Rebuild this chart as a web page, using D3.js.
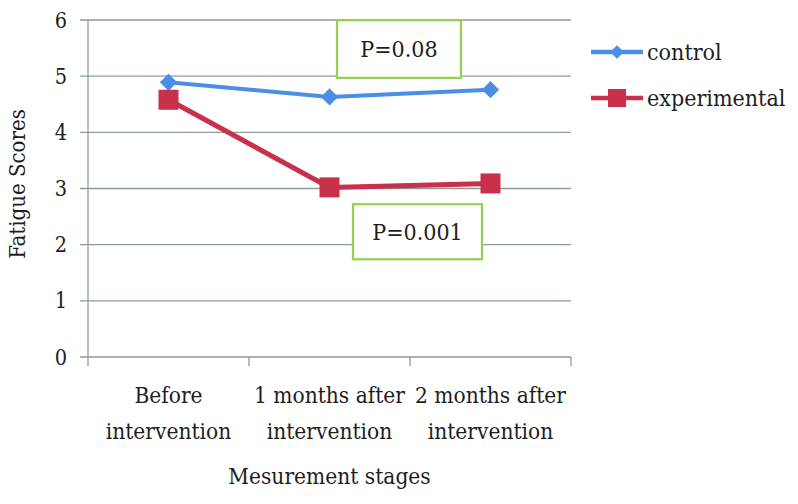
<!DOCTYPE html>
<html><head><meta charset="utf-8">
<script src="https://cdn.jsdelivr.net/npm/d3@7"></script>
<style>body{margin:0;background:#fff}svg{display:block}text{font-family:"DejaVu Serif Condensed","DejaVu Serif",serif;font-stretch:condensed;fill:#1e1e1e}</style>
</head><body><svg id="c" width="798" height="504"></svg>
<script>
const categories = [["Before","intervention"],["1 months after","intervention"],["2 months after","intervention"]];
const seriesNames = ["control","experimental"];
const controlValues = [4.89, 4.63, 4.76];
const experimentalValues = [4.58, 3.02, 3.09];
const yTicks = [0,1,2,3,4,5,6];
const pLabels = ["P=0.08","P=0.001"];

const svg = d3.select("#c");
const L=88, R=571, T=20, B=357;
const x = d3.scaleBand().domain(d3.range(categories.length)).range([L,R]);
const y = d3.scaleLinear().domain([0,6]).range([B,T]);
const grid="#8e9b9b";

svg.append("g").selectAll("line").data(yTicks).join("line")
 .attr("x1",L-8).attr("x2",R).attr("y1",d=>y(d)).attr("y2",d=>y(d))
 .attr("stroke",grid).attr("stroke-width",1.3);
svg.append("line").attr("x1",L).attr("x2",L).attr("y1",T).attr("y2",B+9).attr("stroke",grid).attr("stroke-width",1.3);
svg.append("g").selectAll("line").data(d3.range(1,categories.length+1)).join("line")
 .attr("x1",d=>L+d*x.bandwidth()).attr("x2",d=>L+d*x.bandwidth()).attr("y1",B).attr("y2",B+9)
 .attr("stroke",grid).attr("stroke-width",1.3);
svg.append("g").selectAll("text").data(yTicks).join("text")
 .attr("x",67).attr("y",d=>y(d)+7.5).attr("text-anchor","end").attr("font-size",21.5).text(d=>d);
const cx = i=>x(i)+x.bandwidth()/2;
categories.forEach((c,i)=>{
  c.forEach((line,j)=>{
    svg.append("text").attr("x",cx(i)).attr("y",403+j*36).attr("text-anchor","middle").attr("font-size",22.5).text(line);
  });
});
svg.append("text").attr("x",cx(1)).attr("y",484).attr("text-anchor","middle").attr("font-size",22.5).text("Mesurement stages");
svg.append("text").attr("transform","translate(25,184) rotate(-90)").attr("text-anchor","middle").attr("font-size",22).text("Fatigue Scores");

function box(x0, x1, v0, v1, t){
  svg.append("rect").attr("x",x0).attr("y",y(v0)).attr("width",x1-x0).attr("height",y(v1)-y(v0))
   .attr("fill","#fff").attr("stroke","#92d050").attr("stroke-width",2.2);
  svg.append("text").attr("x",(x0+x1)/2).attr("y",(y(v0)+y(v1))/2+8).attr("text-anchor","middle").attr("font-size",23).text(t);
}
box(337, 461, 5.995, 4.97, pLabels[0]);
box(353, 482, 2.72, 1.74, pLabels[1]);

const cBlue="#4a8fe3", cRed="#c9304c";
const line = d3.line().x((d,i)=>cx(i)).y(d=>y(d));
svg.append("path").datum(controlValues).attr("d",line).attr("fill","none").attr("stroke",cBlue).attr("stroke-width",4);
svg.append("path").datum(experimentalValues).attr("d",line).attr("fill","none").attr("stroke",cRed).attr("stroke-width",5);
svg.append("g").selectAll("path").data(controlValues).join("path")
 .attr("d",d3.symbol(d3.symbolSquare,150)).attr("transform",(d,i)=>`translate(${cx(i)},${y(d)}) rotate(45)`).attr("fill",cBlue);
svg.append("g").selectAll("rect").data(experimentalValues).join("rect")
 .attr("x",(d,i)=>cx(i)-10).attr("y",d=>y(d)-10).attr("width",20).attr("height",20).attr("fill",cRed);

const leg=[{n:seriesNames[0],c:cBlue,t:"d",y:52},{n:seriesNames[1],c:cRed,t:"s",y:98}];
leg.forEach(l=>{
  svg.append("line").attr("x1",591).attr("x2",643).attr("y1",l.y).attr("y2",l.y).attr("stroke",l.c).attr("stroke-width",4.5);
  if(l.t==="d") svg.append("path").attr("d",d3.symbol(d3.symbolSquare,90)).attr("transform",`translate(617,${l.y}) rotate(45)`).attr("fill",l.c);
  else svg.append("rect").attr("x",608).attr("y",l.y-9).attr("width",18).attr("height",18).attr("fill",l.c);
  svg.append("text").attr("x",647).attr("y",l.y+8).attr("font-size",23).text(l.n);
});
</script></body></html>
